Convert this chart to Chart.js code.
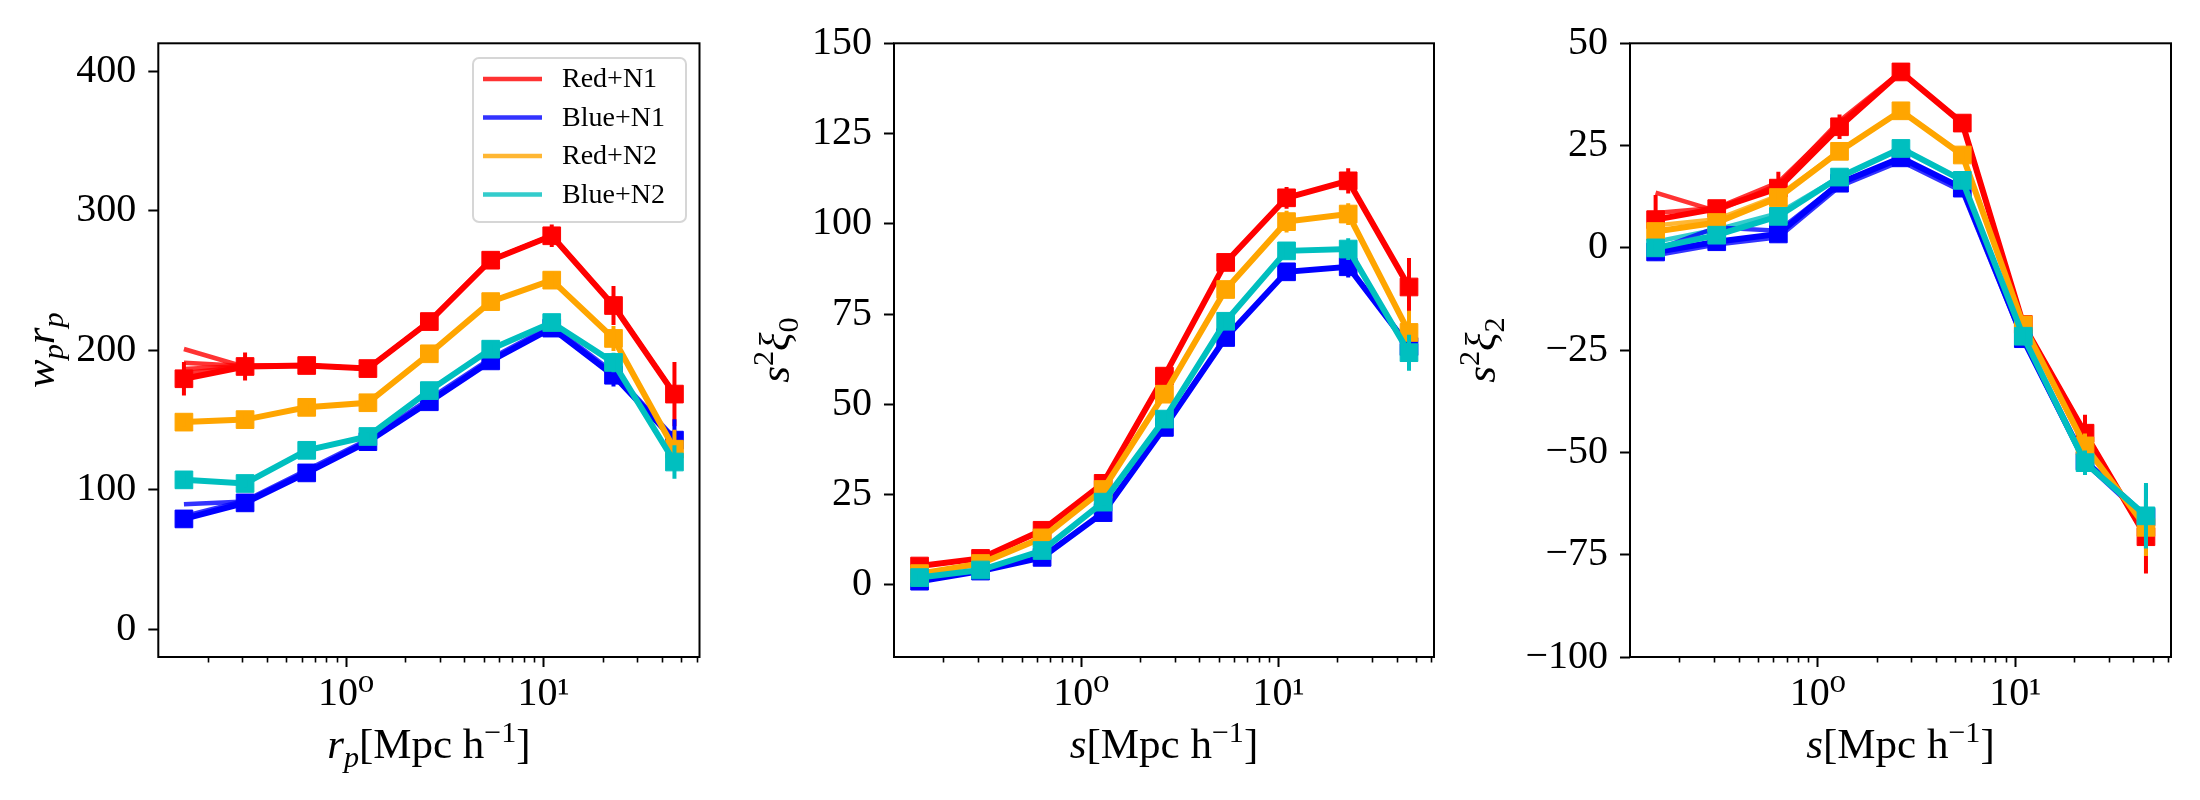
<!DOCTYPE html>
<html>
<head>
<meta charset="utf-8">
<script src="https://cdn.jsdelivr.net/npm/chart.js@4.4.0/dist/chart.umd.min.js"></script>
<style>
  html, body { margin:0; background:#fff; width:2200px; height:800px; overflow:hidden; }
  .panel { position:absolute; top:0; height:800px; }
</style>
</head>
<body>
<div class="panel" style="left:0"><canvas id="c1" width="730" height="800"></canvas></div>
<div class="panel" style="left:730px"><canvas id="c2" width="730" height="800"></canvas></div>
<div class="panel" style="left:1460px"><canvas id="c3" width="740" height="800"></canvas></div>
<script>
const FONT = '"Liberation Serif", "DejaVu Serif", serif';

/* ---- bins / ticks ---- */
const rBins = [0.151, 0.308, 0.632, 1.29, 2.64, 5.40, 11.0, 22.6, 46.0];
const xRange = [0.112, 61.6];
const xMajor = [1, 10];
const xMajorLabels = ['10\u2070', '10\u00b9'];
const xMinor = [0.2,0.3,0.4,0.5,0.6,0.7,0.8,0.9, 2,3,4,5,6,7,8,9, 20,30,40,50,60];

const names  = ['Red+N1', 'Blue+N1', 'Red+N2', 'Blue+N2'];
const colors = ['#ff0000', '#0000ff', '#ffa500', '#00bfbf'];
const faintColors = ['rgba(255,0,0,0.8)', 'rgba(0,0,255,0.8)', 'rgba(255,165,0,0.8)', 'rgba(0,191,191,0.8)'];

/* ---- panel 1 : w_p r_p ---- */
const wpRedN1     = [179.5, 188.3, 189.0, 186.8, 220.5, 264.5, 282.0, 232.0, 168.5];
const wpRedN1Err  = [12, 10, 3, 3, 4, 5, 8, 14, 23];
const wpBlueN1    = [79.0, 90.5, 112.0, 134.4, 163.0, 192.3, 215.8, 182.0, 135.5];
const wpBlueN1Err = [5, 4, 3, 3, 3, 3, 5, 8, 15];
const wpRedN2     = [148.4, 150.2, 159.0, 162.3, 197.4, 234.8, 250.2, 208.4, 129.0];
const wpRedN2Err  = [3, 3, 3, 3, 3, 4, 6, 9, 14];
const wpBlueN2    = [107.0, 104.4, 128.2, 138.1, 171.0, 200.7, 219.8, 191.2, 119.8];
const wpBlueN2Err = [3, 3, 3, 3, 3, 4, 5, 7, 12];
// thin realisations drawn underneath
const wpRedAltA  = [200.8, 188.0, 189.0, 186.8, 220.5, 264.5, 282.0, 232.0, 168.5];
const wpRedAltB  = [191.0, 188.6, 189.0, 186.8, 220.5, 264.5, 282.0, 232.0, 168.5];
const wpRedAltC  = [186.5, 188.8, 189.0, 186.8, 220.5, 264.5, 282.0, 232.0, 168.5];
const wpRedAltD  = [183.5, 188.5, 189.0, 186.8, 220.5, 264.5, 282.0, 232.0, 168.5];
const wpBlueAltA = [89.5, 91.5, 113.0, 134.4, 163.0, 192.3, 215.8, 182.0, 135.5];
const wpBlueAltB = [81.0, 92.0, 114.0, 136.0, 165.0, 194.0, 217.5, 184.0, 137.0];
const wpTicks = [0, 100, 200, 300, 400];
const wpRange = [-20, 420];

/* ---- panel 2 : s^2 xi_0 ---- */
const x0RedN1     = [5.2, 7.3, 15.1, 28.1, 57.8, 89.3, 107.2, 111.9, 82.5];
const x0RedN1Err  = [1, 1, 1, 2, 2, 2, 3, 3.5, 8];
const x0BlueN1    = [1.0, 3.8, 7.6, 20.0, 43.6, 68.5, 86.7, 88.1, 66.0];
const x0BlueN1Err = [1, 1, 1, 1, 2, 2, 2, 3, 5];
const x0RedN2     = [3.1, 5.9, 13.0, 26.4, 52.8, 81.8, 100.6, 102.7, 69.9];
const x0RedN2Err  = [1, 1, 1, 1, 2, 2, 3, 3, 6];
const x0BlueN2    = [2.0, 4.1, 9.5, 22.9, 45.9, 73.0, 92.5, 93.0, 64.3];
const x0BlueN2Err = [1, 1, 1, 1, 2, 2, 2, 3, 5];
const x0Ticks = [0, 25, 50, 75, 100, 125, 150];
const x0Range = [-20, 150];

/* ---- panel 3 : s^2 xi_2 ---- */
const x2RedN1     = [6.9, 9.6, 14.6, 29.6, 43.0, 30.5, -18.7, -45.3, -70.6];
const x2RedN1Err  = [6, 2, 4, 3, 2, 2, 2, 4.5, 9];
const x2BlueN1    = [-1.0, 1.5, 3.4, 15.8, 22.0, 14.6, -22.2, -52.1, -65.8];
const x2BlueN1Err = [2, 2, 2, 2, 2, 2, 2, 3, 8];
const x2RedN2     = [4.0, 6.2, 12.3, 23.6, 33.5, 22.7, -18.8, -48.4, -68.3];
const x2RedN2Err  = [2, 2, 2, 2, 2, 2, 2, 3, 7];
const x2BlueN2    = [0.0, 3.1, 7.7, 17.3, 24.3, 16.5, -21.6, -52.5, -65.5];
const x2BlueN2Err = [2, 2, 2, 2, 2, 2, 2, 3, 8];
const x2RedAltA  = [13.5, 9.0, 15.5, 31.0, 43.0, 30.5, -18.7, -45.3, -70.6];
const x2RedAltB  = [8.5, 9.8, 16.0, 30.5, 43.0, 30.5, -18.7, -45.3, -70.6];
const x2BlueAltA = [-0.5, 5.0, 4.2, 15.8, 22.0, 14.6, -22.2, -52.1, -65.8];
const x2BlueAltB = [-1.8, 0.8, 2.6, 15.0, 21.2, 13.8, -22.8, -52.6, -66.3];
const x2OrgAltA  = [5.5, 7.0, 12.8, 23.6, 33.5, 22.7, -18.8, -48.4, -68.3];
const x2CyanAltA = [1.5, 4.5, 8.5, 17.3, 24.3, 16.5, -21.6, -52.5, -65.5];
const x2Ticks = [-100, -75, -50, -25, 0, 25, 50];
const x2Range = [-100, 50];

/* ---- helpers ---- */
const pts = arr => rBins.map((x, i) => ({ x, y: arr[i] }));
const errPts = (arr, err) => rBins.flatMap((x, i) => [
  { x, y: arr[i] - err[i] }, { x, y: arr[i] + err[i] }, { x, y: null }
]);

function buildSets(series, errs, faint) {
  const sets = [];
  faint.forEach(([k, arr]) => sets.push({
    data: pts(arr), borderColor: faintColors[k], borderWidth: 4.5,
    pointRadius: 0, order: 100
  }));
  series.forEach((arr, k) => {
    sets.push({
      label: names[k], data: pts(arr), borderColor: colors[k], borderWidth: 6,
      pointStyle: 'rect', pointRadius: 12.5, pointBackgroundColor: colors[k],
      pointBorderColor: colors[k], pointBorderWidth: 1, order: 10 * (4 - k) + 1
    });
    sets.push({
      data: errPts(arr, errs[k]), borderColor: colors[k], borderWidth: 4,
      pointRadius: 0, spanGaps: false, order: 10 * (4 - k)
    });
  });
  return sets;
}

function drawRich(ctx, parts, size, cx, baseY) {
  const spec = parts.map(([t, st]) => {
    const small = st.endsWith('sub') || st.endsWith('sup');
    const s = small ? size * 0.7 : size;
    const font = (st[0] === 'i' ? 'italic ' : '') + s + 'px ' + FONT;
    ctx.font = font;
    const dy = st.endsWith('sub') ? size * 0.2 : st.endsWith('sup') ? -size * 0.38 : 0;
    return { t, font, w: ctx.measureText(t).width, dy };
  });
  let x = cx - spec.reduce((a, p) => a + p.w, 0) / 2;
  ctx.textAlign = 'left'; ctx.textBaseline = 'alphabetic'; ctx.fillStyle = '#000';
  spec.forEach(p => { ctx.font = p.font; ctx.fillText(p.t, x, baseY + p.dy); x += p.w; });
}

const framePlugin = {
  id: 'frame',
  afterDatasetsDraw(chart) {
    const a = chart.chartArea, ctx = chart.ctx;
    ctx.save();
    ctx.lineWidth = 2; ctx.strokeStyle = '#000';
    ctx.strokeRect(a.left, a.top, a.right - a.left, a.bottom - a.top);
    ctx.restore();
  }
};

const labelPlugin = {
  id: 'mathLabels',
  afterDraw(chart, args, opts) {
    const a = chart.chartArea, ctx = chart.ctx;
    ctx.save();
    drawRich(ctx, opts.x, 43, (a.left + a.right) / 2, 758);
    ctx.translate(opts.yX, (a.top + a.bottom) / 2);
    ctx.rotate(-Math.PI / 2);
    drawRich(ctx, opts.y, 43, 0, 0);
    ctx.restore();

    if (!opts.legend) return;
    const right = a.right - 13.5, left = right - 213, top = a.top + 14.7, h = 164;
    ctx.save();
    ctx.beginPath();
    ctx.roundRect(left, top, right - left, h, 6);
    ctx.fillStyle = 'rgba(255,255,255,0.8)'; ctx.fill();
    ctx.lineWidth = 2; ctx.strokeStyle = 'rgba(204,204,204,0.8)'; ctx.stroke();
    ctx.font = '28px ' + FONT; ctx.textBaseline = 'middle'; ctx.textAlign = 'left';
    names.forEach((n, k) => {
      const y = top + 21 + k * 38.5;
      ctx.strokeStyle = faintColors[k]; ctx.lineWidth = 4.5;
      ctx.beginPath(); ctx.moveTo(left + 10, y); ctx.lineTo(left + 69, y); ctx.stroke();
      ctx.fillStyle = '#000'; ctx.fillText(n, left + 89, y + 1);
    });
    ctx.restore();
  }
};

function makeChart(id, c) {
  const tickFont = { family: FONT, size: 40 };
  new Chart(document.getElementById(id), {
    type: 'line',
    data: { datasets: buildSets(c.series, c.errs, c.faint) },
    plugins: [framePlugin, labelPlugin],
    options: {
      responsive: false, animation: false,
      layout: { padding: { top: 43.3, right: c.padRight, left: 0, bottom: 0 } },
      elements: { line: { tension: 0 } },
      plugins: {
        legend: { display: false }, tooltip: { enabled: false },
        mathLabels: { x: c.xTitle, y: c.yTitle, yX: c.yX, legend: !!c.legend }
      },
      scales: {
        x: {
          type: 'logarithmic', min: xRange[0], max: xRange[1], weight: 1,
          afterBuildTicks: s => { s.ticks = xMajor.map(v => ({ value: v })); },
          afterFit: s => { s.height = 143; },
          border: { display: false },
          grid: { drawOnChartArea: false, tickLength: 10, tickWidth: 2, tickColor: '#000' },
          ticks: { autoSkip: false, maxRotation: 0, padding: 3, color: '#000', font: tickFont,
                   callback: (v, i) => xMajorLabels[i] }
        },
        xm: {
          type: 'logarithmic', position: 'bottom', min: xRange[0], max: xRange[1], weight: 0,
          afterBuildTicks: s => { s.ticks = xMinor.map(v => ({ value: v })); },
          afterFit: s => { s.height = 0; },
          border: { display: false },
          grid: { drawOnChartArea: false, tickLength: 5.5, tickWidth: 1.6, tickColor: '#000' },
          ticks: { display: false }
        },
        y: {
          type: 'linear', min: c.yRange[0], max: c.yRange[1],
          afterBuildTicks: s => { s.ticks = c.yTicks.map(v => ({ value: v })); },
          afterFit: s => { s.width = c.yAxisW; },
          border: { display: false },
          grid: { drawOnChartArea: false, tickLength: 10, tickWidth: 2, tickColor: '#000' },
          ticks: { autoSkip: false, padding: 12, color: '#000', font: tickFont,
                   callback: v => v < 0 ? '\u2212' + (-v) : String(v) }
        }
      }
    }
  });
}

const sTitle = [['s', 'i'], ['[Mpc h', 'r'], ['\u22121', 'rsup'], [']', 'r']];

makeChart('c1', {
  series: [wpRedN1, wpBlueN1, wpRedN2, wpBlueN2],
  errs: [wpRedN1Err, wpBlueN1Err, wpRedN2Err, wpBlueN2Err],
  faint: [[0, wpRedAltA], [0, wpRedAltB], [0, wpRedAltC], [0, wpRedAltD], [1, wpBlueAltA], [1, wpBlueAltB]],
  yTicks: wpTicks, yRange: wpRange, yAxisW: 158.3, padRight: 30.5,
  xTitle: [['r', 'i'], ['p', 'isub'], ['[Mpc h', 'r'], ['\u22121', 'rsup'], [']', 'r']],
  yTitle: [['w', 'i'], ['p', 'isub'], ['r', 'i'], ['p', 'isub']],
  yX: 54, legend: true
});

makeChart('c2', {
  series: [x0RedN1, x0BlueN1, x0RedN2, x0BlueN2],
  errs: [x0RedN1Err, x0BlueN1Err, x0RedN2Err, x0BlueN2Err],
  faint: [],
  yTicks: x0Ticks, yRange: x0Range, yAxisW: 164, padRight: 26,
  xTitle: sTitle,
  yTitle: [['s', 'i'], ['2', 'rsup'], ['\u03be', 'i'], ['0', 'rsub']],
  yX: 59
});

makeChart('c3', {
  series: [x2RedN1, x2BlueN1, x2RedN2, x2BlueN2],
  errs: [x2RedN1Err, x2BlueN1Err, x2RedN2Err, x2BlueN2Err],
  faint: [[0, x2RedAltA], [0, x2RedAltB], [1, x2BlueAltA], [1, x2BlueAltB], [2, x2OrgAltA], [3, x2CyanAltA]],
  yTicks: x2Ticks, yRange: x2Range, yAxisW: 170, padRight: 29,
  xTitle: sTitle,
  yTitle: [['s', 'i'], ['2', 'rsup'], ['\u03be', 'i'], ['2', 'rsub']],
  yX: 35
});
</script>
</body>
</html>
